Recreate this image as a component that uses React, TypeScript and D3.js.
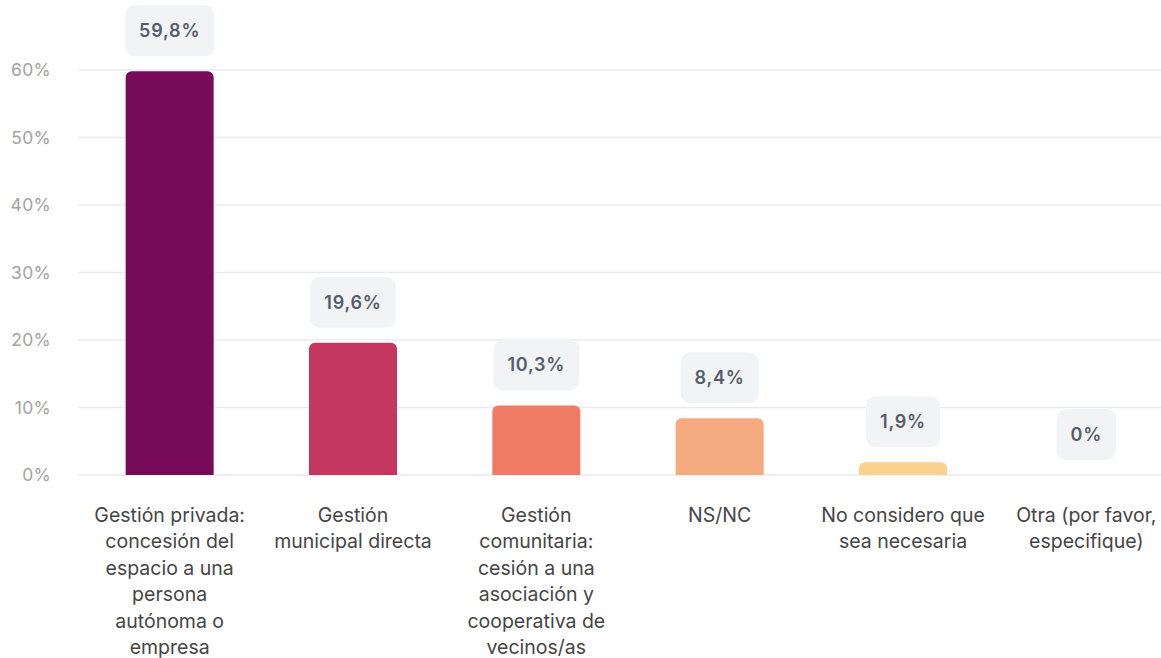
import React from "react";
import * as d3 from "d3";

const categories = [
  "Gestión privada:\nconcesión del\nespacio a una\npersona\nautónoma o\nempresa",
  "Gestión\nmunicipal directa",
  "Gestión\ncomunitaria:\ncesión a una\nasociación y\ncooperativa de\nvecinos/as",
  "NS/NC",
  "No considero que\nsea necesaria",
  "Otra (por favor,\nespecifique)",
];
const values = [59.8, 19.6, 10.3, 8.4, 1.9, 0];
const valueLabels = ["59,8%", "19,6%", "10,3%", "8,4%", "1,9%", "0%"];
const colors = ["#780b59", "#c4385f", "#ef7b65", "#f5aa80", "#fbd28d", "#fde7a8"];
const yTicks = [0, 10, 20, 30, 40, 50, 60];

const W = 1161;
const H = 658;
const FONT = "Inter, 'Noto Sans', sans-serif";

let ctx: CanvasRenderingContext2D | null = null;
function measure(text: string, font: string, spacing: number) {
  if (!ctx) ctx = document.createElement("canvas").getContext("2d");
  if (!ctx) return text.length * 10;
  ctx.font = font;
  return ctx.measureText(text).width + spacing * text.length;
}

function topRoundedRect(x: number, y: number, w: number, h: number, r: number) {
  const rr = Math.min(r, h, w / 2);
  const p = d3.path();
  p.moveTo(x, y + h);
  p.lineTo(x, y + rr);
  p.arcTo(x, y, x + rr, y, rr);
  p.lineTo(x + w - rr, y);
  p.arcTo(x + w, y, x + w, y + rr, rr);
  p.lineTo(x + w, y + h);
  p.closePath();
  return p.toString();
}

export default function App() {
  const x = d3
    .scaleBand<number>()
    .domain(d3.range(categories.length))
    .range([78, 1178])
    .paddingInner(0.52)
    .paddingOuter(0.26);
  const y = d3.scaleLinear().domain([0, 60]).range([475, 70]);

  return (
    <svg
      width={W}
      height={H}
      style={{ position: "absolute", left: 0, top: 0, background: "#fff" }}
      fontFamily={FONT}
    >
      {yTicks.map((t) => (
        <g key={t}>
          <line x1={78} x2={W} y1={y(t)} y2={y(t)} stroke="#ebebeb" strokeWidth={1.5} />
          <text
            x={51}
            y={y(t)}
            dy="0.35em"
            textAnchor="end"
            fontSize={17.5}
            letterSpacing={0.3}
            fill="#a3a3a3"
          >
            {t}%
          </text>
        </g>
      ))}
      {values.map((v, i) => {
        const bx = x(i)!;
        const bw = x.bandwidth();
        const top = y(v);
        const cx = bx + bw / 2;
        const labelFont = `600 18px ${FONT}`;
        const tw = measure(valueLabels[i], labelFont, 0.8);
        const boxW = tw + 28;
        const boxH = 51;
        const boxBottom = top - 15;
        return (
          <g key={i}>
            {v > 0 && (
              <path d={topRoundedRect(bx, top, bw, y(0) - top, 6)} fill={colors[i]} />
            )}
            <rect
              x={cx - boxW / 2}
              y={boxBottom - boxH}
              width={boxW}
              height={boxH}
              rx={10}
              fill="#f1f3f4"
            />
            <text
              x={cx}
              y={boxBottom - boxH / 2}
              dy="0.35em"
              textAnchor="middle"
              fontSize={18}
              fontWeight={600}
              letterSpacing={0.8}
              fill="#555d6b"
            >
              {valueLabels[i]}
            </text>
            <text textAnchor="middle" fontSize={19.5} fill="#454545">
              {categories[i].split("\n").map((line, j) => (
                <tspan key={j} x={cx} y={522 + j * 26.4}>
                  {line}
                </tspan>
              ))}
            </text>
          </g>
        );
      })}
    </svg>
  );
}
